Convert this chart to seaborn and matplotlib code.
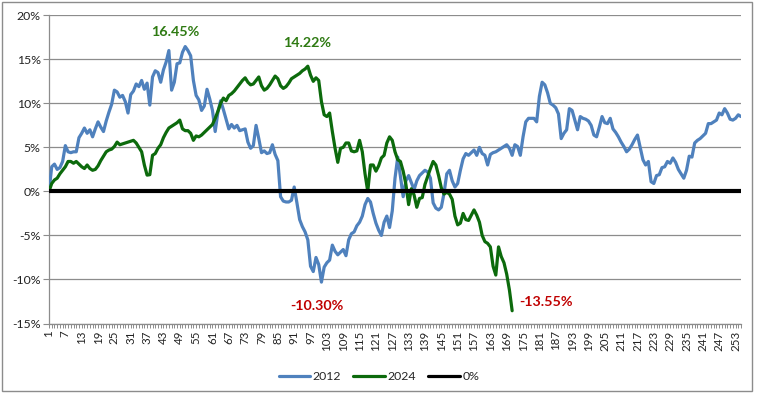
import numpy as np
import pandas as pd
import matplotlib
matplotlib.use("Agg")
import matplotlib.pyplot as plt
import seaborn as sns
from matplotlib.lines import Line2D
from matplotlib.patches import Rectangle
from matplotlib.ticker import FuncFormatter, MultipleLocator

# valeurs (en %)
y2012 = [0.0, 2.8, 3.1, 2.5, 2.7, 3.4, 5.2, 4.5, 4.4, 4.5,
         4.5, 6.1, 6.6, 7.2, 6.6, 7.0, 6.2, 7.1, 7.9, 7.3,
         6.8, 8.0, 9.0, 9.9, 11.5, 11.3, 10.7, 10.9, 10.2, 8.9,
         11.0, 11.4, 12.2, 11.9, 12.6, 11.6, 12.3, 9.8, 13.0, 13.7,
         13.5, 12.4, 13.8, 14.7, 16.0, 11.5, 12.4, 14.5, 14.6, 15.8,
         16.45, 16.0, 15.4, 12.6, 10.9, 10.4, 9.2, 9.7, 11.6, 10.5,
         9.2, 6.8, 9.0, 10.3, 9.3, 8.2, 7.1, 7.6, 7.2, 7.5,
         6.9, 7.0, 7.1, 5.6, 4.9, 5.2, 7.5, 6.0, 4.4, 4.6,
         4.3, 4.4, 5.3, 4.2, 3.5, -0.6, -1.1, -1.2, -1.2, -1.0,
         0.5, -1.3, -3.2, -4.0, -4.6, -5.5, -8.5, -9.1, -7.5, -8.3,
         -10.3, -8.6, -8.1, -7.8, -6.1, -6.8, -7.2, -6.9, -6.6, -7.3,
         -5.5, -4.8, -4.6, -3.9, -3.5, -2.8, -1.5, -0.8, -1.2, -2.5,
         -3.6, -4.4, -5.0, -3.5, -2.8, -4.1, -2.2, 1.5, 3.9, 1.7,
         -0.6, 1.2, 1.8, 1.0, 0.2, 1.2, 1.8, 2.1, 2.4, 2.2,
         1.5, -1.3, -1.9, -2.1, -1.8, -0.2, 2.0, 2.4, 1.2, 0.5,
         0.9, 2.4, 3.7, 4.3, 4.1, 4.4, 4.7, 4.1, 5.0, 4.3,
         4.1, 3.0, 4.2, 4.4, 4.5, 4.7, 4.9, 5.1, 5.3, 4.9,
         4.1, 5.3, 5.1, 4.1, 6.2, 7.9, 8.3, 8.3, 8.3, 7.9,
         10.8, 12.4, 12.1, 11.2, 10.0, 9.8, 9.5, 8.8, 6.0, 6.6,
         7.0, 9.4, 9.2, 8.1, 7.0, 8.5, 8.3, 8.2, 8.0, 7.5,
         6.4, 6.2, 7.3, 8.5, 7.8, 7.7, 8.3, 7.1, 6.7, 6.2,
         5.6, 5.1, 4.5, 4.8, 5.3, 5.9, 6.4, 5.0, 3.6, 3.0,
         3.4, 1.1, 0.9, 1.8, 1.9, 2.7, 2.8, 3.4, 3.2, 3.8,
         3.3, 2.5, 2.0, 1.5, 2.4, 4.0, 3.9, 5.5, 5.8, 6.0,
         6.3, 6.6, 7.7, 7.7, 7.9, 8.1, 8.9, 8.7, 9.4, 8.9,
         8.2, 8.1, 8.3, 8.7, 8.5]

y2024 = [0.0, 0.9, 1.3, 1.5, 2.0, 2.4, 2.8, 3.4, 3.4, 3.2,
         3.4, 3.1, 2.8, 2.6, 3.0, 2.6, 2.4, 2.5, 2.9, 3.5,
         4.0, 4.5, 4.7, 4.8, 5.1, 5.6, 5.3, 5.4, 5.5, 5.6,
         5.7, 5.8, 5.5, 5.0, 4.5, 3.0, 1.85, 1.9, 4.1, 4.3,
         4.9, 5.3, 6.1, 6.7, 7.2, 7.4, 7.6, 7.8, 8.1, 7.1,
         6.9, 6.9, 6.6, 5.8, 6.3, 6.2, 6.4, 6.7, 7.0, 7.3,
         7.6, 8.3, 9.1, 10.0, 10.6, 10.3, 10.9, 11.1, 11.4, 11.8,
         12.2, 12.6, 12.9, 12.4, 12.1, 12.2, 12.6, 13.0, 12.0, 11.5,
         11.7, 12.1, 12.6, 13.1, 12.8, 12.0, 11.7, 11.9, 12.3, 12.8,
         13.0, 13.2, 13.4, 13.7, 13.9, 14.22, 13.2, 12.5, 12.9, 12.6,
         10.2, 8.7, 8.5, 8.9, 6.8, 4.9, 3.3, 4.9, 5.0, 5.5,
         5.5, 4.6, 4.5, 4.6, 5.8, 4.5, 2.0, 0.0, 3.0, 3.0,
         2.3, 2.9, 3.8, 4.1, 5.5, 6.2, 5.8, 4.5, 3.6, 3.4,
         2.3, 0.8, -1.5, 0.3, -0.4, -1.8, -0.8, -0.7, 0.8, 1.7,
         2.6, 3.4, 3.0, 1.8, 0.4, -0.3, -0.1, -0.3, -0.9, -2.8,
         -3.8, -3.6, -2.5, -3.2, -3.3, -2.7, -2.1, -2.7, -3.5, -5.0,
         -5.7, -5.9, -6.3, -8.5, -9.5, -6.3, -7.4, -8.1, -9.4, -11.2,
         -13.55]

years = ["2012", "2024"]
colors = {"2012": "#4F81BD", "2024": "#0C6A0C"}
xticks = list(range(1, 256, 6))
yticks = [-15, -10, -5, 0, 5, 10, 15, 20]

annotations = [("16.45%", 47.3, 18.1, "#2E7A12"),
               ("14.22%", 95.7, 16.8, "#2E7A12"),
               ("-10.30%", 99.5, -13.0, "#C00000"),
               ("-13.55%", 183.6, -12.55, "#C00000")]

sns.set_theme(style="white")
plt.rcParams['font.family'] = ['Lato', 'DejaVu Sans']

df = pd.concat([
    pd.DataFrame({"jour": range(1, len(y2012) + 1), "perf": y2012, "annee": "2012"}),
    pd.DataFrame({"jour": range(1, len(y2024) + 1), "perf": y2024, "annee": "2024"}),
])

fig = plt.figure(figsize=(7.58, 3.94), dpi=100)
W, H = 758, 394
ax = fig.add_axes([49 / W, 1 - 323.5 / H, (741 - 49) / W, (323.5 - 15.3) / H])

grid_c = "#8C8C8C"
for v in yticks:
    ax.axhline(v, color=grid_c, lw=0.9, zorder=0)

sns.lineplot(data=df, x="jour", y="perf", hue="annee", palette=colors,
             linewidth=2.3, ax=ax, legend=False, zorder=3, sort=False)
for l in ax.lines:
    l.set_solid_joinstyle("round")
ax.axhline(0, color="black", lw=3, zorder=4)

ax.set_xlim(1, 255)
ax.set_ylim(-15, 20)
ax.set_yticks(yticks)
ax.yaxis.set_major_formatter(FuncFormatter(lambda v, p: f"{int(v)}%"))
ax.set_xticks(xticks)
ax.set_xticklabels([str(t) for t in xticks], rotation=90)
ax.xaxis.set_minor_locator(MultipleLocator(1))
ax.tick_params(axis="x", which="both", length=3, width=0.7, color=grid_c,
               direction="out", bottom=True, labelsize=8.3, pad=2, labelcolor="#222222")
ax.tick_params(axis="y", length=4, width=0.8, color=grid_c, left=True,
               labelsize=8.8, pad=2, labelcolor="#222222")
ax.set_xlabel("")
ax.set_ylabel("")
for s in ["top", "right"]:
    ax.spines[s].set_visible(False)
for s in ["left", "bottom"]:
    ax.spines[s].set_color(grid_c)
    ax.spines[s].set_linewidth(0.9)

for txt, x, y, c in annotations:
    ax.text(x, y, txt, color=c, fontweight="bold", fontsize=10.3,
            ha="center", va="center")

handles = [Line2D([], [], color=colors["2012"], lw=2.3),
           Line2D([], [], color=colors["2024"], lw=2.3),
           Line2D([], [], color="black", lw=2.3)]
fig.legend(handles, ["2012", "2024", "0%"], loc="center",
           bbox_to_anchor=(0.5, 1 - 377 / H), ncol=3, frameon=False,
           fontsize=8.8, handlelength=2.6, handletextpad=0.2, columnspacing=1.0)

fig.patches.append(Rectangle((2 / W, 3 / H), 750 / W, 389 / H, transform=fig.transFigure,
                             fill=False, ec="#8C8C8C", lw=1))

fig.savefig("out.png", dpi=100)
